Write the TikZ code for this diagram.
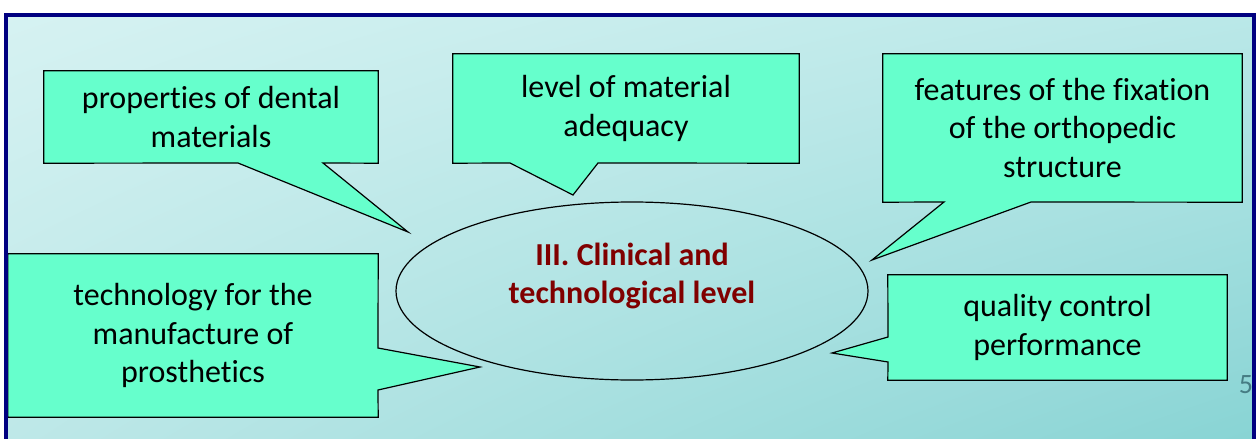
\documentclass[tikz,border=0pt]{standalone}
\usepackage{fontspec}
\setmainfont{Carlito}[Ligatures=NoCommon]
\usepackage{xcolor}
\usepackage{tikz}
\usetikzlibrary{shapes.geometric, shadings, backgrounds}

\definecolor{calloutfill}{RGB}{102,255,204}
\definecolor{framenavy}{RGB}{0,0,128}
\definecolor{titlered}{RGB}{128,0,0}
\definecolor{bgUL}{RGB}{214,242,242}
\definecolor{bgUR}{RGB}{186,232,232}
\definecolor{bgLL}{RGB}{190,232,232}
\definecolor{bgLR}{RGB}{136,212,212}
\definecolor{pagegray}{RGB}{70,125,132}

\tikzset{
  callout/.style={draw=black, line width=1.2pt, fill=calloutfill, line join=miter},
  calltext/.style={align=center, inner sep=0pt, font=\fontsize{32}{38.5}\selectfont},
}

\begin{document}
\begin{tikzpicture}[x=1pt, y=-1pt]
        \pgfdeclarelayer{bg}
        \pgfdeclarelayer{slide}
        \pgfsetlayers{slide,bg,main}

        \useasboundingbox (0,0) rectangle (1256,439);
        \begin{pgfonlayer}{slide}
            \fill[white] (0,0) rectangle (1256,439);
            \shade[upper left=bgUL, upper right=bgUR, lower left=bgLL, lower right=bgLR] (6,15) rectangle (1254,439);
        \end{pgfonlayer}

        \node[calltext, minimum width=334pt, minimum height=92pt] at (211,117)    (props) {properties of dental\\materials};
        \node[calltext, minimum width=346pt, minimum height=109pt] at (626,108.5) (adequ) {level of material\\adequacy};
        \node[calltext, minimum width=359pt, minimum height=148pt] at (1062.5,128) (fixat) {features of the fixation\\of the orthopedic\\structure};
        \node[calltext, minimum width=370pt, minimum height=163pt] at (193,335.5)  (techn) {technology for the\\manufacture of\\prosthetics};
        \node[calltext, minimum width=339pt, minimum height=105pt] at (1057.5,327.5) (qualc) {quality control\\performance};

        \node[ellipse, draw, line width=1.2pt, minimum width=472pt, minimum height=178pt, inner sep=0pt] at (632,291) (core) {};
        \node[align=center, text=titlered, font=\fontsize{32}{38}\selectfont\bfseries] at (632,276) (corelbl) {III. Clinical and\\technological level};

        \node[text=pagegray, font=\fontsize{28}{30}\selectfont, inner sep=0pt] at (1246,385) (pagenum) {5};

        \begin{pgfonlayer}{bg}
            \draw[callout] (props.north west) -- (props.north east) -- (props.south east) -- (323,163) -- (408,232) -- (238,163) -- (props.south west) -- cycle;
            \draw[callout] (adequ.north west) -- (adequ.north east) -- (adequ.south east) -- (598,163) -- (573,195) -- (510,163) -- (adequ.south west) -- cycle;
            \draw[callout] (fixat.north west) -- (fixat.north east) -- (fixat.south east) -- (1031,202) -- (872,260) -- (944,202) -- (fixat.south west) -- cycle;
            \draw[callout] (techn.north west) -- (techn.north east) -- (378,348) -- (480,367) -- (378,390) -- (techn.south east) -- (techn.south west) -- cycle;
            \draw[callout] (qualc.north west) -- (qualc.north east) -- (qualc.south east) -- (qualc.south west) -- (888,362) -- (832,353) -- (888,337) -- cycle;
        \end{pgfonlayer}

        % slide frame
        \draw[framenavy, line width=4pt] (6,439) -- (6,15) -- (1254,15) -- (1254,439);
\end{tikzpicture}
\end{document}
